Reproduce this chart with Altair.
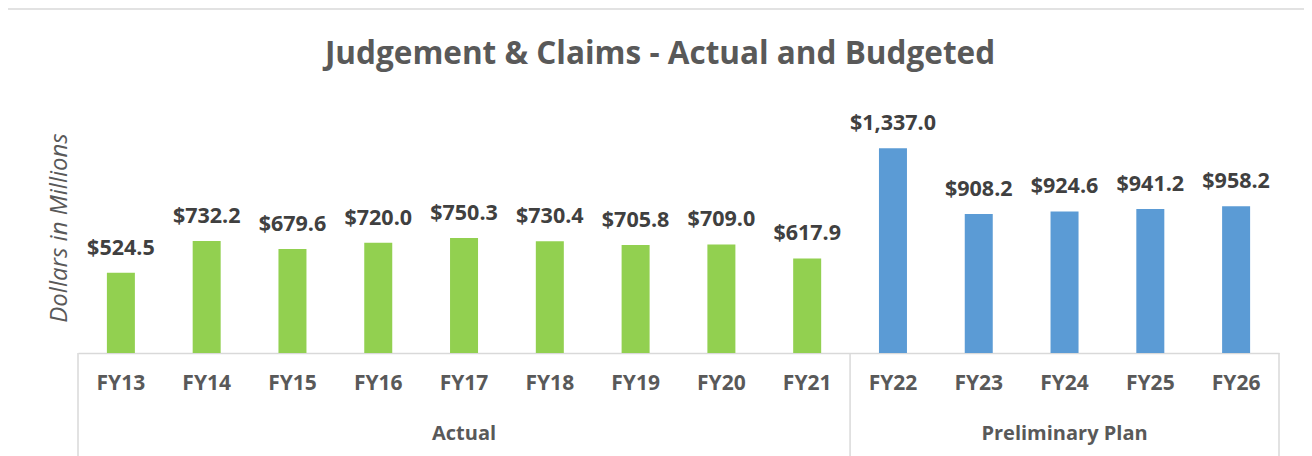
import altair as alt
import pandas as pd

categories = ["FY13", "FY14", "FY15", "FY16", "FY17", "FY18", "FY19", "FY20", "FY21",
              "FY22", "FY23", "FY24", "FY25", "FY26"]
values = [524.5, 732.2, 679.6, 720.0, 750.3, 730.4, 705.8, 709.0, 617.9,
          1337.0, 908.2, 924.6, 941.2, 958.2]
groups = ["Actual"] * 9 + ["Preliminary Plan"] * 5
labels = ["$524.5", "$732.2", "$679.6", "$720.0", "$750.3", "$730.4", "$705.8", "$709.0", "$617.9",
          "$1,337.0", "$908.2", "$924.6", "$941.2", "$958.2"]
group_names = ["Actual", "Preliminary Plan"]
group_centers = ["FY17", "FY24"]
title_text = "Judgement & Claims - Actual and Budgeted"
y_title = "Dollars in Millions"

FONT = "Open Sans"
W, H = 1201, 245

df = pd.DataFrame({"cat": categories, "val": values, "grp": groups, "lbl": labels})
gdf = pd.DataFrame({"cat": group_centers, "name": group_names})
one = pd.DataFrame({"t": [title_text]})

xscale = alt.Scale(domain=categories, paddingInner=0, paddingOuter=0, round=False)
yscale = alt.Scale(domain=[0, 1600])
color = alt.Color("grp:N", scale=alt.Scale(domain=group_names, range=["#92D050", "#5B9BD5"]), legend=None)

base = alt.Chart(df)

bars = base.mark_bar(size=28).encode(
    x=alt.X("cat:N", scale=xscale, sort=categories,
            axis=alt.Axis(title=None, labelAngle=0, ticks=False, labelFont=FONT,
                          labelFontSize=21, labelFontWeight="bold", labelColor="#595959",
                          labelPadding=30, labelAlign="center", bandPosition=0.5,
                          domainColor="#D9D9D9", domainWidth=1.5)),
    y=alt.Y("val:Q", scale=yscale, axis=None),
    color=color,
)

text = base.mark_text(baseline="bottom", dy=-13, font=FONT, fontSize=21.5,
                      fontWeight="bold", color="#404040").encode(
    x=alt.X("cat:N", scale=xscale, sort=categories),
    y=alt.Y("val:Q", scale=yscale),
    text="lbl:N",
)

glabels = alt.Chart(gdf).mark_text(font=FONT, fontSize=20, fontWeight="bold",
                                   color="#595959").encode(
    x=alt.X("cat:N", scale=xscale, sort=categories),
    y=alt.value(H + 81),
    text="name:N",
)

div_left = alt.Chart(pd.DataFrame({"cat": ["FY13", "FY22"]})).mark_rule(
    color="#D9D9D9", strokeWidth=1.5).encode(
    x=alt.X("cat:N", scale=xscale, sort=categories, bandPosition=0),
    y=alt.value(H), y2=alt.value(H + 120),
)
div_right = alt.Chart(pd.DataFrame({"cat": ["FY26"]})).mark_rule(
    color="#D9D9D9", strokeWidth=1.5).encode(
    x=alt.X("cat:N", scale=xscale, sort=categories, bandPosition=1),
    y=alt.value(H), y2=alt.value(H + 120),
)

title = alt.Chart(one).mark_text(font=FONT, fontSize=31.5, fontWeight="bold",
                                 color="#595959").encode(
    x=alt.value(582), y=alt.value(-53), text="t:N")

ytitle = alt.Chart(pd.DataFrame({"t": [y_title]})).mark_text(
    font=FONT, fontSize=24, fontStyle="italic", color="#595959", angle=270).encode(
    x=alt.value(-18), y=alt.value(120), text="t:N")

border = alt.Chart(one).mark_rect(fillOpacity=0, stroke="#D9D9D9", strokeWidth=1.5).encode(
    x=alt.value(-71), x2=alt.value(1227), y=alt.value(-99), y2=alt.value(400))

chart = alt.layer(border, div_left, div_right, bars, text, glabels, title, ytitle).properties(
    width=W, height=H,
    autosize=alt.AutoSizeParams(type="none"),
    padding={"left": 70, "top": 100, "right": 25, "bottom": 103},
    background="white",
).configure_view(strokeWidth=0)

chart.save("out.html", embed_options={"renderer": "svg", "actions": False})
